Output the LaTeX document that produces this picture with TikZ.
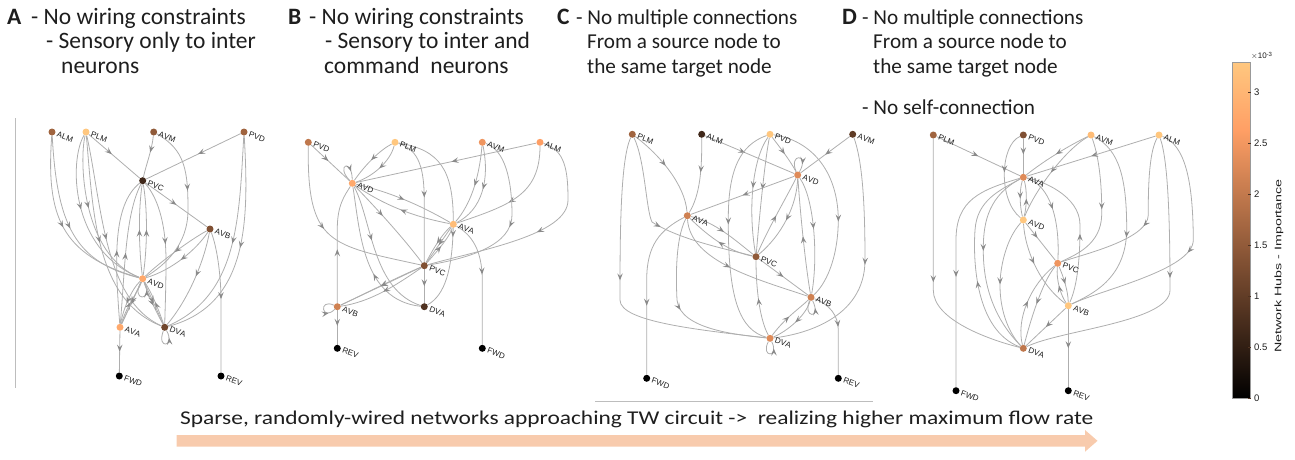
\documentclass[tikz,border=0pt]{standalone}
\usepackage{fontspec}
\setmainfont{Carlito}
\newfontfamily\lblfont[Kerning=Off]{Liberation Sans}
\newfontfamily\btfont[FakeStretch=1.2]{Carlito}
\usetikzlibrary{arrows.meta,decorations.markings}
\definecolor{c100}{HTML}{FFC77F}
\definecolor{c95}{HTML}{FFBD78}
\definecolor{c90}{HTML}{FFB372}
\definecolor{c85}{HTML}{FFA96C}
\definecolor{c80}{HTML}{FF9F65}
\definecolor{c75}{HTML}{EF955F}
\definecolor{c70}{HTML}{DF8B59}
\definecolor{c65}{HTML}{CF8152}
\definecolor{c60}{HTML}{BF774C}
\definecolor{c55}{HTML}{AF6D46}
\definecolor{c50}{HTML}{A0643F}
\definecolor{c45}{HTML}{905A39}
\definecolor{c40}{HTML}{805033}
\definecolor{c35}{HTML}{70462C}
\definecolor{c30}{HTML}{603C26}
\definecolor{c25}{HTML}{503220}
\definecolor{c20}{HTML}{40281A}
\definecolor{edgec}{HTML}{AEAEAE}
\definecolor{arrc}{HTML}{8A8A8A}
\definecolor{bandc}{HTML}{F8CBAD}
\definecolor{txt}{HTML}{1E1E1E}
\definecolor{framec}{HTML}{BDBDBD}
\pgfdeclarelayer{bg}
\pgfsetlayers{bg,main}
\tikzset{
  nd/.style={circle,inner sep=0pt,minimum size=7pt,draw=none},
  lbl/.style={font=\lblfont\fontsize{8}{8}\selectfont,text=txt,rotate=-20,anchor=west,inner sep=0pt},
  edgebase/.style={draw=edgec,line width=0.8pt},
  ed/.style={edgebase,decoration={markings,mark=at position #1 with {\arrow{Stealth[length=7pt,width=5.5pt,inset=2.8pt,color=arrc]}}},postaction={decorate}},
  ed/.default=0.5,
  hdr/.style={font=\fontsize{23.5}{24}\selectfont,text=txt,anchor=base west,inner sep=0pt},
  hdrb/.style={hdr,font=\bfseries\fontsize{23.5}{24}\selectfont},
  hdrs/.style={hdr,font=\fontsize{21.2}{24}\selectfont},
  cbt/.style={font=\lblfont\fontsize{9.5}{9.5}\selectfont,text=txt,anchor=west,inner sep=0pt},
  cbtick/.style={draw=c25,line width=0.5pt},
}
\newcommand\neuron[5]{\node[nd,fill=#4] (#1) at (#2,#3) {};
  \node[lbl] (#1l) at ([xshift=1.5pt,yshift=-2pt]#1.east) {#5};}
\begin{document}
\begin{tikzpicture}[x=1pt,y=-1pt]
\useasboundingbox (0,0) rectangle (1295,459);
% ---------- headers
\node[hdrb] (hA) at (7,24) {A};
\node[hdr] (hA1) at (31,24) {- No wiring constraints};
\node[hdr] (hA2) at (46,48.5) {- Sensory only to inter};
\node[hdr] (hA3) at (61,73) {neurons};
\node[hdrb] (hB) at (288,24) {B};
\node[hdr] (hB1) at (309,24) {- No wiring constraints};
\node[hdr] (hB2) at (325,48.5) {- Sensory to inter and};
\node[hdr] (hB3) at (324,73) {command\ \ neurons};
\node[hdrb] (hC) at (557,24) {C};
\node[hdrs] (hC1) at (576,24) {- No multiple connections};
\node[hdrs] (hC2) at (587,48.5) {From a source node to};
\node[hdrs] (hC3) at (587,73) {the same target node};
\node[hdrb] (hD) at (842,24) {D};
\node[hdrs] (hD1) at (862,24) {- No multiple connections};
\node[hdrs] (hD2) at (873,48.5) {From a source node to};
\node[hdrs] (hD3) at (873,73) {the same target node};
\node[hdrs] (hD4) at (862,114) {- No self-connection};
% ---------- frame lines
\draw[framec,line width=0.7pt] (15,118) -- (15,388);
\draw[framec,line width=0.7pt] (595,401) -- (873,401);
% ---------- panel A
\neuron{aALM}{52}{132}{c50}{ALM}
\neuron{aPLM}{86}{132}{c100}{PLM}
\neuron{aAVM}{153.7}{132}{c45}{AVM}
\neuron{aPVD}{244}{132}{c50}{PVD}
\neuron{aPVC}{142.7}{180.7}{c20}{PVC}
\neuron{aAVB}{210}{229}{c40}{AVB}
\neuron{aAVD}{142.7}{278.7}{c85}{AVD}
\neuron{aAVA}{120}{327.3}{c85}{AVA}
\neuron{aDVA}{164.7}{327.3}{c35}{DVA}
\neuron{aFWD}{119.3}{376}{black}{FWD}
\neuron{aREV}{221}{376}{black}{REV}
\begin{pgfonlayer}{bg}
\draw[ed=0.45] (aPLM) -- (aPVC);
\draw[ed=0.45] (aPVD) -- (aPVC);
\draw[ed=0.4] (aAVM) .. controls (152,150) and (146,165) .. (aPVC);
\draw[ed=0.4] (aAVM) .. controls (185,150) and (188,170) .. (188,210) .. controls (188,245) and (165,265) .. (aAVD);
\draw[ed=0.5] (aPVC) -- (aAVB);
\draw[ed=0.5] (aALM) .. controls (46,215) and (60,255) .. (aAVD);
\draw[ed=0.52] (aALM) .. controls (57,225) and (75,262) .. (aAVD);
\draw[ed=0.45] (aPLM) .. controls (69,160) and (70,250) .. (aAVD);
\draw[ed=0.45] (aPLM) .. controls (79,160) and (82,255) .. (aAVD);
\draw[ed=0.5] (aPLM) .. controls (93,210) and (95,300) .. (aDVA);
\draw[ed=0.5] (aPLM) .. controls (102,205) and (104,300) .. (aDVA);
\draw[ed=0.5] (aPVD) .. controls (239,220) and (238,295) .. (aDVA);
\draw[ed=0.5] (aPVD) .. controls (249,220) and (249,305) .. (aDVA);
\draw[ed=0.48] (aAVB) .. controls (218,250) and (221,280) .. (221,300) -- (aREV);
\draw[ed=0.45] (aAVB) .. controls (204,262) and (188,300) .. (aDVA);
\draw[ed=0.5] (aAVB) .. controls (190,240) and (160,262) .. (aAVD);
\draw[ed=0.5] (aAVB) .. controls (196,250) and (172,270) .. (aAVD);
\draw[ed=0.5] (aAVD) .. controls (139,250) and (138,212) .. (aPVC);
\draw[ed=0.5] (aAVD) .. controls (147,250) and (148,212) .. (aPVC);
\draw[ed=0.45] (aPVC) .. controls (160,200) and (166,230) .. (166,260) .. controls (166,290) and (165,310) .. (aDVA);
\draw[ed=0.5] (aAVA) .. controls (115,262) and (112,205) .. (aPVC);
\draw[ed=0.5] (aAVA) .. controls (125,270) and (125,215) .. (aPVC);
\draw[ed=0.55] (aAVD) .. controls (135,295) and (126,315) .. (aAVA);
\draw[ed=0.5] (aAVA) .. controls (128,303) and (138,292) .. (aAVD);
\draw[ed=0.55] (aAVD) .. controls (131,290) and (123,310) .. (aAVA);
\draw[ed=0.5] (aAVD) -- (aAVA);
\draw[ed=0.55] (aAVD) .. controls (150,300) and (158,315) .. (aDVA);
\draw[ed=0.5] (aDVA) .. controls (157,305) and (151,292) .. (aAVD);
\draw[ed=0.5] (aAVD) -- (aDVA);
\draw[ed=0.75] (aAVD) .. controls (130,302) and (154,302) .. (aAVD);
\draw[ed=0.75] (aDVA) .. controls (156,350) and (176,347) .. (aDVA);
\draw[ed=0.5] (aAVA) -- (aFWD);
\end{pgfonlayer}
% ---------- panel B
\neuron{bPVD}{308.3}{142.3}{c60}{PVD}
\neuron{bPLM}{395}{142.3}{c100}{PLM}
\neuron{bAVM}{482.3}{142.3}{c75}{AVM}
\neuron{bALM}{540}{142.3}{c80}{ALM}
\neuron{bAVD}{352.3}{183.3}{c85}{AVD}
\neuron{bAVA}{453.3}{224.3}{c95}{AVA}
\neuron{bPVC}{424.3}{265.7}{c40}{PVC}
\neuron{bAVB}{337.3}{306.7}{c65}{AVB}
\neuron{bDVA}{424.3}{306.7}{c25}{DVA}
\neuron{bREV}{337.3}{348.3}{black}{REV}
\neuron{bFWD}{482.3}{348.3}{black}{FWD}
\begin{pgfonlayer}{bg}
\draw[ed=0.45] (bPVD) -- (bAVD);
\draw[ed=0.45] (bPVD) .. controls (307,245) and (330,245) .. (bPVC);
\draw[ed=0.5] (bPLM) .. controls (380,150) and (365,165) .. (bAVD);
\draw[ed=0.5] (bPLM) .. controls (390,162) and (372,177) .. (bAVD);
\draw[ed=0.5] (bPLM) .. controls (420,150) and (424,170) .. (424.3,200) -- (bPVC);
\draw[ed=0.62] (bPLM) .. controls (440,150) and (453,170) .. (453.3,220) .. controls (453,270) and (445,295) .. (bDVA);
\draw[ed=0.47] (bALM) -- (bAVD);
\draw[ed=0.55] (bALM) .. controls (540,195) and (510,205) .. (bAVA);
\draw[ed=0.5] (bALM) .. controls (565,150) and (568,170) .. (568,200) .. controls (568,235) and (480,250) .. (bPVC);
\draw[ed=0.5] (bAVM) .. controls (479,180) and (470,205) .. (bAVA);
\draw[ed=0.5] (bAVM) .. controls (490,180) and (482,210) .. (bAVA);
\draw[ed=0.5] (bAVM) .. controls (505,150) and (512,180) .. (512,215) .. controls (512,245) and (470,258) .. (bPVC);
\draw[ed=0.75] (bAVD) .. controls (335,165) and (352,158) .. (bAVD);
\draw[ed=0.5] (bAVD) .. controls (390,192) and (420,205) .. (bAVA);
\draw[ed=0.5] (bAVA) .. controls (420,218) and (388,208) .. (bAVD);
\draw[ed=0.4] (bAVD) .. controls (380,212) and (405,240) .. (bPVC);
\draw[ed=0.4] (bAVD) .. controls (372,220) and (372,290) .. (bDVA);
\draw[ed=0.4] (bDVA) .. controls (362,300) and (360,230) .. (bAVD);
\draw[ed=0.45] (bAVB) -- (337.3,230) .. controls (337,205) and (345,195) .. (bAVD);
\draw[ed=0.5] (bAVA) -- (bPVC);
\draw[ed=0.5] (bPVC) .. controls (440,248) and (450,236) .. (bAVA);
\draw[ed=0.5] (bAVA) .. controls (440,236) and (430,255) .. (bPVC);
\draw[ed=0.45] (bAVA) .. controls (472,235) and (482,250) .. (482.3,280) -- (bFWD);
\draw[ed=0.5] (bPVC) -- (bAVB);
\draw[ed=0.5] (bPVC) .. controls (400,276) and (360,296) .. (bAVB);
\draw[ed=0.5] (bPVC) .. controls (395,286) and (370,302) .. (bAVB);
\draw[ed=0.5] (bPVC) -- (bDVA);
\draw[ed=0.75] (bAVB) .. controls (318,298) and (322,322) .. (bAVB);
\draw[ed=0.45] (bAVB) -- (bREV);
\end{pgfonlayer}
% ---------- panel C
\neuron{cPLM}{632.3}{134.3}{c50}{PLM}
\neuron{cALM}{701.7}{134.3}{c20}{ALM}
\neuron{cPVD}{770}{134.3}{c100}{PVD}
\neuron{cAVM}{852.7}{134.3}{c30}{AVM}
\neuron{cAVD}{797.7}{175}{c70}{AVD}
\neuron{cAVA}{687.3}{215.7}{c65}{AVA}
\neuron{cPVC}{756}{256.7}{c45}{PVC}
\neuron{cAVB}{811}{297.3}{c65}{AVB}
\neuron{cDVA}{770}{338.3}{c70}{DVA}
\neuron{cFWD}{646.7}{378.3}{black}{FWD}
\neuron{cREV}{838.3}{378.3}{black}{REV}
\begin{pgfonlayer}{bg}
\draw[ed=0.45] (cPLM) .. controls (620,160) and (620,240) .. (620,300) .. controls (620,322) and (700,330) .. (cDVA);
\draw[ed=0.5] (cPLM) .. controls (645,160) and (646,210) .. (652,222) .. controls (680,240) and (730,250) .. (cPVC);
\draw[ed=0.45] (cPLM) .. controls (660,155) and (685,185) .. (cAVA);
\draw[ed=0.45] (cALM) .. controls (702,170) and (700,195) .. (cAVA);
\draw[ed=0.45] (cALM) -- (cAVD);
\draw[ed=0.5] (cPVD) .. controls (778,145) and (790,160) .. (cAVD);
\draw[ed=0.45] (cPVD) .. controls (752,160) and (748,210) .. (cPVC);
\draw[ed=0.45] (cPVD) .. controls (765,160) and (760,210) .. (cPVC);
\draw[ed=0.6] (cPVD) .. controls (810,140) and (838,170) .. (838.3,220) .. controls (838,260) and (825,285) .. (cAVB);
\draw[ed=0.45] (cPVD) .. controls (740,145) and (728,170) .. (728.3,220) .. controls (728,300) and (740,330) .. (cDVA);
\draw[ed=0.5] (cAVM) -- (cAVD);
\draw[ed=0.5] (cAVD) -- (cAVA);
\draw[ed=0.5] (cAVM) .. controls (862,160) and (865,200) .. (865,260) .. controls (865,320) and (800,335) .. (cDVA);
\draw[ed=0.75] (cAVD) .. controls (788,153) and (810,153) .. (cAVD);
\draw[ed=0.5] (cPVC) .. controls (770,225) and (785,200) .. (cAVD);
\draw[ed=0.5] (cAVD) .. controls (797,205) and (782,235) .. (cPVC);
\draw[ed=0.45] (cAVD) .. controls (815,200) and (818,260) .. (cAVB);
\draw[ed=0.5] (cAVB) .. controls (805,262) and (800,210) .. (cAVD);
\draw[ed=0.5] (cAVA) .. controls (715,222) and (735,240) .. (cPVC);
\draw[ed=0.5] (cPVC) .. controls (730,252) and (710,238) .. (cAVA);
\draw[ed=0.6] (cAVA) .. controls (660,230) and (646.7,245) .. (646.7,280) -- (cFWD);
\draw[ed=0.45] (cAVA) .. controls (690,262) and (760,280) .. (cAVB);
\draw[ed=0.5] (cAVA) .. controls (675,240) and (676,280) .. (677,300) .. controls (680,330) and (740,335) .. (cDVA);
\draw[ed=0.5] (cPVC) -- (cAVB);
\draw[ed=0.5] (cDVA) .. controls (760,320) and (756,290) .. (cPVC);
\draw[ed=0.5] (cDVA) .. controls (785,318) and (800,308) .. (cAVB);
\draw[ed=0.5] (cAVB) .. controls (806,316) and (786,332) .. (cDVA);
\draw[ed=0.75] (cAVB) .. controls (802,318) and (822,320) .. (cAVB);
\draw[ed=0.45] (cAVB) .. controls (830,305) and (838,315) .. (838.3,330) -- (cREV);
\draw[ed=0.75] (cDVA) .. controls (760,358) and (780,358) .. (cDVA);
\end{pgfonlayer}
% ---------- panel D
\neuron{dPLM}{933.3}{135}{c50}{PLM}
\neuron{dPVD}{1023.3}{135}{c40}{PVD}
\neuron{dAVM}{1091}{135}{c95}{AVM}
\neuron{dALM}{1159}{135}{c100}{ALM}
\neuron{dAVA}{1023.3}{177.3}{c70}{AVA}
\neuron{dAVD}{1023.3}{220}{c100}{AVD}
\neuron{dPVC}{1057.7}{263.3}{c75}{PVC}
\neuron{dAVB}{1068.3}{305.7}{c100}{AVB}
\neuron{dDVA}{1023.3}{348.3}{c60}{DVA}
\neuron{dFWD}{956}{390.7}{black}{FWD}
\neuron{dREV}{1068.3}{390.7}{black}{REV}
\begin{pgfonlayer}{bg}
\draw[ed=0.5] (dPLM) -- (dAVA);
\draw[ed=0.55] (dPLM) -- (933.3,290) .. controls (933,320) and (990,340) .. (dDVA);
\draw[ed=0.45] (dPVD) -- (dAVA);
\draw[ed=0.45] (dPVD) .. controls (1000,145) and (998,200) .. (dAVD);
\draw[ed=0.5] (dAVM) .. controls (1070,145) and (1045,160) .. (dAVA);
\draw[ed=0.5] (dAVM) .. controls (1065,150) and (1035,190) .. (dAVD);
\draw[ed=0.5] (dAVM) .. controls (1100,160) and (1102,190) .. (1101.7,215) .. controls (1101,245) and (1075,255) .. (dPVC);
\draw[ed=0.55] (dAVM) .. controls (1120,150) and (1126.7,180) .. (1126.7,230) .. controls (1126,280) and (1090,295) .. (dAVB);
\draw[ed=0.5] (dALM) -- (dAVA);
\draw[ed=0.5] (dALM) .. controls (1150,150) and (1148,180) .. (1148.3,215) .. controls (1148,240) and (1080,255) .. (dPVC);
\draw[ed=0.45] (dALM) .. controls (1168,160) and (1170,220) .. (1170,290) .. controls (1170,322) and (1060,330) .. (dDVA);
\draw[ed=0.5] (dALM) .. controls (1185,145) and (1193,180) .. (1193.3,240) .. controls (1193,270) and (1100,290) .. (dAVB);
\draw[ed=0.55] (dAVA) .. controls (980,190) and (956,200) .. (956,240) -- (dFWD);
\draw[ed=0.4] (dDVA) .. controls (975,330) and (973,260) .. (975,230) .. controls (977,200) and (1000,190) .. (dAVA);
\draw[ed=0.45] (dAVA) .. controls (990,195) and (983,220) .. (983.3,250) .. controls (983,300) and (1005,330) .. (dDVA);
\draw[ed=0.5] (dAVD) .. controls (1027,205) and (1027,190) .. (dAVA);
\draw[ed=0.5] (dAVA) .. controls (1019.5,190) and (1019.5,205) .. (dAVD);
\draw[ed=0.45] (dAVA) .. controls (1050,185) and (1060,220) .. (dPVC);
\draw[ed=0.45] (dAVB) .. controls (1080,280) and (1080,240) .. (1080,225) .. controls (1080,195) and (1040,180) .. (dAVA);
\draw[ed=0.4] (dAVD) -- (dPVC);
\draw[ed=0.5] (dAVD) .. controls (1005,240) and (1000,270) .. (1000,285) .. controls (1000,320) and (1015,340) .. (dDVA);
\draw[ed=0.45] (dAVD) .. controls (1025,250) and (1040,285) .. (dAVB);
\draw[ed=0.5] (dDVA) .. controls (1016,320) and (1030,285) .. (dPVC);
\draw[ed=0.5] (dPVC) .. controls (1042,282) and (1030,322) .. (dDVA);
\draw[ed=0.5] (dPVC) .. controls (1063,276) and (1068,290) .. (dAVB);
\draw[ed=0.5] (dAVB) .. controls (1061,296) and (1056,280) .. (dPVC);
\draw[ed=0.5] (dAVB) -- (dDVA);
\draw[ed=0.5] (dAVB) -- (dREV);
\end{pgfonlayer}
% ---------- colorbar
\shade[bottom color=black,top color=c80] (1232.5,398.3) rectangle (1250.5,129.8);
\shade[bottom color=c80,top color=c100] (1232.5,129.9) rectangle (1250.5,62.7);
\draw[draw=gray!80,line width=0.6pt] (1232.5,62.7) rectangle (1250.5,398.3);
\foreach \v/\t [count=\i] in {0/0,0.5/0.5,1/1,1.5/1.5,2/2,2.5/2.5,3/3}{
  \draw[cbtick] (1250.5,398.3-\v*102) -- (1247.5,398.3-\v*102);
  \node[cbt] (cbt\i) at (1254,398.3-\v*102) {\t};
}
\node[cbt,font=\lblfont\fontsize{8}{8}\selectfont] (cbexp) at (1251,56) {$\times$10\raisebox{0.45ex}{\fontsize{6}{6}\selectfont -3}};
\node[rotate=90,font=\lblfont\fontsize{9.5}{9.5}\selectfont,text=txt,inner sep=0pt] (cblab) at (1279,266) {\scalebox{1.5}[1]{Network Hubs - Importance}};
% ---------- bottom arrow
\fill[bandc] (176.7,435) -- (1085,435) -- (1085,430) -- (1097.5,440.8) -- (1085,451.7) -- (1085,446.7) -- (176.7,446.7) -- cycle;
\node[hdr,font=\btfont\fontsize{19.5}{20}\selectfont] (btext) at (180,424) {Sparse, randomly-wired networks approaching TW circuit ->\ \ realizing higher maximum flow rate};
\end{tikzpicture}
\end{document}
